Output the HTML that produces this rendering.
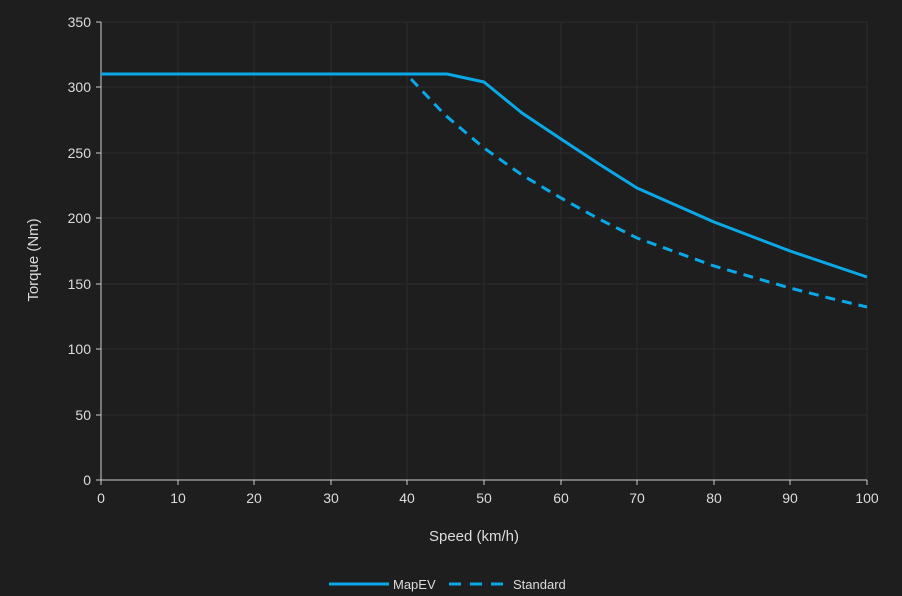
<!DOCTYPE html>
<html><head><meta charset="utf-8"><style>
html,body{margin:0;padding:0;background:#1e1e1e;}
svg{display:block;font-family:"Liberation Sans",sans-serif;}
</style></head><body>
<svg width="902" height="596" viewBox="0 0 902 596">
<rect width="902" height="596" fill="#1e1e1e"/>
<g stroke="#2c2c2c" stroke-width="1">
<line x1="178" y1="22" x2="178" y2="480"/><line x1="254" y1="22" x2="254" y2="480"/><line x1="331" y1="22" x2="331" y2="480"/><line x1="407" y1="22" x2="407" y2="480"/><line x1="484" y1="22" x2="484" y2="480"/><line x1="561" y1="22" x2="561" y2="480"/><line x1="637" y1="22" x2="637" y2="480"/><line x1="714" y1="22" x2="714" y2="480"/><line x1="790" y1="22" x2="790" y2="480"/><line x1="867" y1="22" x2="867" y2="480"/>
<line x1="101" y1="22" x2="867" y2="22"/><line x1="101" y1="87" x2="867" y2="87"/><line x1="101" y1="153" x2="867" y2="153"/><line x1="101" y1="218" x2="867" y2="218"/><line x1="101" y1="284" x2="867" y2="284"/><line x1="101" y1="349" x2="867" y2="349"/><line x1="101" y1="415" x2="867" y2="415"/>
</g>
<g stroke="#cfcfcf" stroke-width="1">
<line x1="101" y1="22" x2="101" y2="480"/><line x1="101" y1="480" x2="867" y2="480"/>
<line x1="96" y1="22" x2="101" y2="22"/><line x1="96" y1="87" x2="101" y2="87"/><line x1="96" y1="153" x2="101" y2="153"/><line x1="96" y1="218" x2="101" y2="218"/><line x1="96" y1="284" x2="101" y2="284"/><line x1="96" y1="349" x2="101" y2="349"/><line x1="96" y1="415" x2="101" y2="415"/><line x1="96" y1="480" x2="101" y2="480"/>
<line x1="101" y1="480" x2="101" y2="485"/><line x1="178" y1="480" x2="178" y2="485"/><line x1="254" y1="480" x2="254" y2="485"/><line x1="331" y1="480" x2="331" y2="485"/><line x1="407" y1="480" x2="407" y2="485"/><line x1="484" y1="480" x2="484" y2="485"/><line x1="561" y1="480" x2="561" y2="485"/><line x1="637" y1="480" x2="637" y2="485"/><line x1="714" y1="480" x2="714" y2="485"/><line x1="790" y1="480" x2="790" y2="485"/><line x1="867" y1="480" x2="867" y2="485"/>
</g>
<g fill="#dcdcdc" font-size="14" text-anchor="end">
<text x="91" y="27">350</text><text x="91" y="92">300</text><text x="91" y="158">250</text><text x="91" y="223">200</text><text x="91" y="289">150</text><text x="91" y="354">100</text><text x="91" y="420">50</text><text x="91" y="485">0</text>
</g>
<g fill="#dcdcdc" font-size="14" text-anchor="middle">
<text x="101" y="503">0</text><text x="178" y="503">10</text><text x="254" y="503">20</text><text x="331" y="503">30</text><text x="407" y="503">40</text><text x="484" y="503">50</text><text x="561" y="503">60</text><text x="637" y="503">70</text><text x="714" y="503">80</text><text x="790" y="503">90</text><text x="867" y="503">100</text>
<text x="474" y="541" font-size="15">Speed (km/h)</text>
<text x="0" y="0" font-size="15" transform="translate(38,260) rotate(-90)">Torque (Nm)</text>
</g>
<polyline fill="none" stroke="#0aa8e6" stroke-width="3" stroke-linejoin="round" points="101,74 447,74 484,82 522,113 561,139 599,164 637,188 714,222 790,251 867,277"/>
<polyline fill="none" stroke="#0aa8e6" stroke-width="3" stroke-dasharray="10,7" points="411,79 445,115 484,148 522,175 561,198 599,219 637,238 714,266 790,288 829,298 867,307"/>
<line x1="329" y1="584" x2="389" y2="584" stroke="#0aa8e6" stroke-width="3"/>
<line x1="449" y1="584" x2="503" y2="584" stroke="#0aa8e6" stroke-width="3" stroke-dasharray="12,9"/>
<g fill="#dcdcdc" font-size="13">
<text x="393" y="589">MapEV</text><text x="513" y="589">Standard</text>
</g>
</svg>
</body></html>
